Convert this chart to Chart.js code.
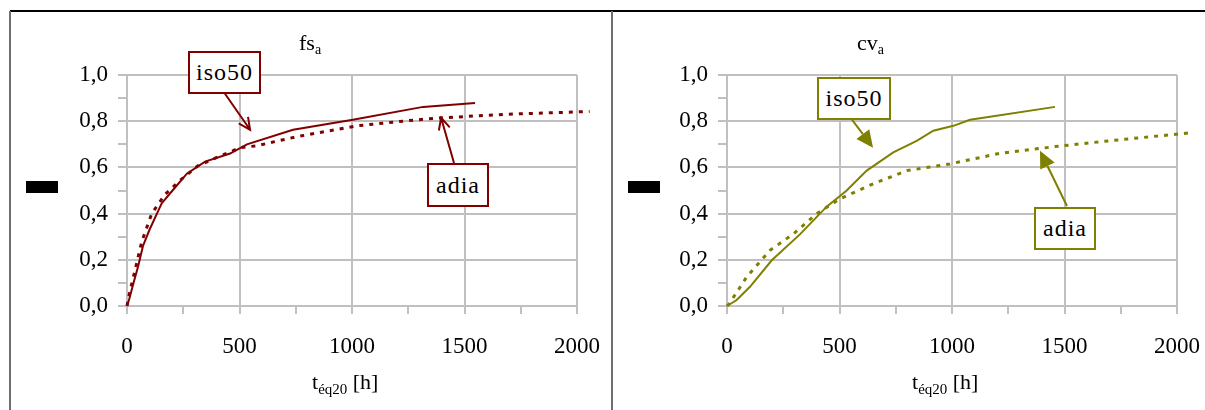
<!DOCTYPE html>
<html>
<head>
<meta charset="utf-8">
<script src="https://cdn.jsdelivr.net/npm/chart.js@4.4.1/dist/chart.umd.min.js"></script>
<style>
  body { margin: 0; background: #fff; width: 1205px; height: 410px; overflow: hidden; position: relative; font-family: 'Liberation Serif', serif; }
  canvas { position: absolute; top: 0; }
  .line { position: absolute; }
  .title, .axt { position: absolute; font-size: 22px; color: #000; white-space: nowrap; }
  .title sub { font-size: 14px; vertical-align: -4px; }
  .axt sub { font-size: 15px; vertical-align: -5px; }
  .tag { position: absolute; box-sizing: border-box; background: #fff; border: 2px solid; font-size: 24px; color: #000;
         display: flex; align-items: center; justify-content: center; letter-spacing: 1px; }
  .blk { position: absolute; background: #000; width: 32px; height: 12px; }
</style>
</head>
<body>
<div class="line" style="left:10px; top:10px; width:1195px; height:2px; background:#000"></div>
<div class="line" style="left:9px; top:11px; width:2px; height:399px; background:#6e6e6e"></div>
<div class="line" style="left:611px; top:11px; width:2px; height:399px; background:#6e6e6e"></div>

<canvas id="fs" width="605" height="410" style="left:0"></canvas>
<canvas id="cv" width="600" height="410" style="left:605px"></canvas>

<div class="title" style="left:299px; top:30px">fs<sub>a</sub></div>
<div class="title" style="left:857px; top:30px">cv<sub>a</sub></div>
<div class="axt" style="left:312px; top:369px">t<sub>éq20</sub> [h]</div>
<div class="axt" style="left:912px; top:369px">t<sub>éq20</sub> [h]</div>
<div class="blk" style="left:26px; top:181px"></div>
<div class="blk" style="left:628px; top:181px"></div>

<div class="tag" style="left:188px; top:51px; width:73px; height:43px; border-color:#800000">iso50</div>
<div class="tag" style="left:427px; top:163px; width:62px; height:44px; border-color:#800000">adia</div>
<div class="tag" style="left:817px; top:77px; width:74px; height:43px; border-color:#808000">iso50</div>
<div class="tag" style="left:1034px; top:207px; width:62px; height:43px; border-color:#808000">adia</div>

<script>
// fs_a : time [h] and values
const fsIsoT = [0, 10, 32, 49, 71, 100, 154, 191, 266, 347, 458, 533, 738, 1004, 1316, 1547];
const fsIsoV = [0, 0.03, 0.11, 0.17, 0.26, 0.33, 0.444, 0.487, 0.573, 0.625, 0.66, 0.70, 0.763, 0.806, 0.862, 0.879];
const fsAdiaT = [0, 12, 32, 66, 110, 169, 235, 315, 404, 502, 578, 755, 1022, 1288, 1407, 1684, 2056];
const fsAdiaV = [0, 0.06, 0.14, 0.28, 0.40, 0.483, 0.543, 0.607, 0.645, 0.685, 0.694, 0.733, 0.78, 0.806, 0.815, 0.83, 0.842];

// cv_a
const cvIsoT = [0, 43, 102, 199, 324, 443, 532, 621, 739, 843, 917, 1006, 1080, 1169, 1458];
const cvIsoV = [0, 0.026, 0.083, 0.198, 0.31, 0.43, 0.50, 0.586, 0.665, 0.715, 0.759, 0.78, 0.806, 0.819, 0.862];
const cvAdiaT = [0, 10, 88, 191, 295, 399, 502, 650, 799, 991, 1213, 1458, 1658, 2050];
const cvAdiaV = [0, 0.01, 0.126, 0.241, 0.312, 0.40, 0.464, 0.529, 0.586, 0.615, 0.661, 0.69, 0.711, 0.749];

const xMax = 2000;
const yMax = 1.0;

const GRID = '#c0c0c0';
const toPts = (t, v) => t.map((x, i) => ({ x: x, y: v[i] }));

// arrows from an annotation box to a point on the curve
const arrowPlugin = {
  id: 'arrows',
  afterDatasetsDraw(chart, args, opts) {
    const ctx = chart.ctx;
    const xs = chart.scales.x, ys = chart.scales.y;
    (opts.list || []).forEach(a => {
      const x1 = a.from[0], y1 = a.from[1];
      const x2 = xs.getPixelForValue(a.to[0]), y2 = ys.getPixelForValue(a.to[1]);
      const ang = Math.atan2(y2 - y1, x2 - x1);
      ctx.save();
      ctx.strokeStyle = a.color;
      ctx.fillStyle = a.color;
      ctx.lineWidth = 2;
      ctx.beginPath();
      if (a.filled) {
        const L = 17, W = 8;
        const bx = x2 - L * Math.cos(ang), by = y2 - L * Math.sin(ang);
        ctx.moveTo(x1, y1); ctx.lineTo(bx, by); ctx.stroke();
        ctx.beginPath();
        ctx.moveTo(x2, y2);
        ctx.lineTo(bx + W * Math.sin(ang), by - W * Math.cos(ang));
        ctx.lineTo(bx - W * Math.sin(ang), by + W * Math.cos(ang));
        ctx.closePath();
        ctx.fill();
      } else {
        const L = 13, s = 0.45;
        ctx.moveTo(x1, y1); ctx.lineTo(x2, y2);
        ctx.moveTo(x2 - L * Math.cos(ang - s), y2 - L * Math.sin(ang - s));
        ctx.lineTo(x2, y2);
        ctx.lineTo(x2 - L * Math.cos(ang + s), y2 - L * Math.sin(ang + s));
        ctx.stroke();
      }
      ctx.restore();
    });
  }
};

function makeChart(id, iso, adia, color, yWidth, padRight, arrows) {
  const ctx = document.getElementById(id).getContext('2d');
  return new Chart(ctx, {
    type: 'line',
    data: {
      datasets: [
        { label: 'iso50', data: iso, borderColor: color, borderWidth: 2, pointRadius: 0, tension: 0, clip: false },
        { label: 'adia', data: adia, borderColor: color, borderWidth: 3, borderDash: [4, 6], pointRadius: 0, tension: 0, clip: false }
      ]
    },
    options: {
      responsive: false,
      animation: false,
      devicePixelRatio: 1,
      layout: { padding: { left: 0, right: padRight, top: 75, bottom: 0 } },
      plugins: { legend: { display: false }, tooltip: { enabled: false }, arrows: { list: arrows } },
      scales: {
        x: {
          type: 'linear', min: 0, max: xMax,
          afterFit: s => { s.height = 104; s.paddingRight = padRight; },
          border: { color: GRID, width: 2 },
          grid: {
            lineWidth: 2, tickLength: 8,
            color: c => (c.tick && c.tick.value % 500 === 0) ? GRID : 'rgba(0,0,0,0)',
            tickColor: GRID
          },
          ticks: {
            stepSize: 250, padding: 19, maxRotation: 0, autoSkip: false,
            color: '#000', font: { family: 'Liberation Serif', size: 23 },
            callback: v => (v % 500 === 0 ? String(v) : '')
          }
        },
        y: {
          min: 0, max: yMax,
          afterFit: s => { s.width = yWidth; },
          border: { color: GRID, width: 2 },
          grid: {
            lineWidth: 2, tickLength: 9,
            color: c => (c.tick && Math.round(c.tick.value * 10) % 2 === 0) ? GRID : 'rgba(0,0,0,0)',
            tickColor: GRID
          },
          ticks: {
            stepSize: 0.1, padding: 10, autoSkip: false,
            color: '#000', font: { family: 'Liberation Serif', size: 23 },
            callback: v => (Math.round(v * 10) % 2 === 0 ? v.toFixed(1).replace('.', ',') : '')
          }
        }
      }
    },
    plugins: [arrowPlugin]
  });
}

makeChart('fs', toPts(fsIsoT, fsIsoV), toPts(fsAdiaT, fsAdiaV), '#800000', 127, 28, [
  { from: [221, 88], to: [547, 0.763], color: '#800000', filled: false },
  { from: [454, 163], to: [1396, 0.815], color: '#800000', filled: false }
]);
makeChart('cv', toPts(cvIsoT, cvIsoV), toPts(cvAdiaT, cvAdiaV), '#808000', 122, 28, [
  { from: [242, 113], to: [649, 0.685], color: '#808000', filled: true },
  { from: [462, 206], to: [1391, 0.672], color: '#808000', filled: true }
]);
</script>
</body>
</html>
